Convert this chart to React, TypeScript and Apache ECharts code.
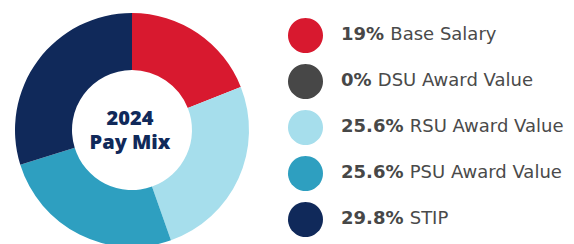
import React, { useEffect, useRef } from "react";
import * as echarts from "echarts";

const categories = ["Base Salary", "DSU Award Value", "RSU Award Value", "PSU Award Value", "STIP"];
const shares = [19, 0, 25.6, 25.6, 29.8];
const colors = ["#D8192F", "#474747", "#A6DEEC", "#2E9FC0", "#10295A"];
const centerTitleLines = ["2024", "Pay Mix"];

export default function App() {
  const ref = useRef<HTMLDivElement>(null);
  useEffect(() => {
    document.body.style.margin = "0";
    const chart = echarts.init(ref.current!, null, { renderer: "svg" });
    const data = categories.map((c, i) => ({ name: c, value: shares[i], itemStyle: { color: colors[i] } }));
    chart.setOption({
      animation: false,
      backgroundColor: "#ffffff",
      legend: {
        orient: "vertical",
        left: 288,
        top: 18,
        padding: 0,
        itemWidth: 35,
        itemHeight: 35,
        itemGap: 11,
        icon: "circle",
        selectedMode: false,
        data: categories,
        formatter: (name: string) => {
          const i = categories.indexOf(name);
          return `{p|${shares[i]}% }{n|${name}}`;
        },
        textStyle: {
          padding: [0, 0, 4, 13],
          rich: {
            p: { fontFamily: "DejaVu Sans", fontSize: 18, fontWeight: 700, color: "#474747" },
            n: { fontFamily: "DejaVu Sans", fontSize: 18, fontWeight: 400, color: "#4a4a4a" },
          },
        },
      },
      graphic: centerTitleLines.map((t, i) => ({
        type: "text",
        x: 130,
        y: 117 + i * 24,
        style: {
          text: t,
          fontFamily: "Open Sans",
          fontSize: 20,
          lineHeight: 20,
          fontWeight: 800,
          fill: "#10295A",
          textAlign: "center",
          textVerticalAlign: "middle",
        },
      })),
      series: [
        {
          type: "pie",
          center: [132, 130],
          radius: [60, 117],
          startAngle: 90,
          clockwise: true,
          label: { show: false },
          labelLine: { show: false },
          emphasis: { disabled: true },
          silent: true,
          data,
        },
      ],
    });
    return () => chart.dispose();
  }, []);
  return <div ref={ref} style={{ width: 574, height: 244 }} />;
}
